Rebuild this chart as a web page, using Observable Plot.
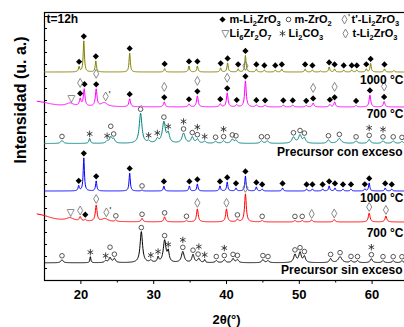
<!DOCTYPE html>
<html><head><meta charset="utf-8">
<script src="https://cdn.jsdelivr.net/npm/d3@7"></script>
<script src="https://cdn.jsdelivr.net/npm/@observablehq/plot@0.6"></script>
<style>
html,body{margin:0;padding:0;overflow:hidden;background:#fff;}
</style></head><body><div id="chart"></div>
<script>
// ---------- data (2θ in degrees, intensity in arbitrary units) ----------
const xTicks = [20, 30, 40, 50, 60];
const xMinorTicks = [25, 35, 45, 55, 65];

// trace offsets (stacking baselines)
const baseOlive = 208.5, baseMagenta = 173.5, baseTeal = 137, baseBlue = 89.5, baseRed = 58.5, baseBlack = 17.7;

// peaks: [2θ, height, half-width (optional)]
const peaksOlive = [[19.75,5],[20.4,31],[22.05,11],[26.7,19],[31.5,3.5],[34.85,6],[36.0,6],[39.2,4],[40.15,9],[41.6,3],[42.6,16.5],[44.1,3],[45.2,2],[46.7,2],[47.6,3],[50.8,3],[51.8,2],[52.9,1],[54.1,5],[54.85,3],[56.1,2],[57.2,2],[57.9,2],[59.2,3],[59.8,8.5],[61.7,3],[63.0,1.5]];
const peaksMagenta = [[14,5.6,2],[18.5,3,0.6],[19.9,7],[20.45,17],[22.1,17],[23.2,4,0.5],[26.7,8],[28.3,1],[31.45,5],[34.85,3],[36.0,11],[39.15,3],[40.1,14],[41.4,2],[42.6,26],[44.1,2],[45.3,2],[47.8,2],[49.1,2],[50.95,1.5],[51.9,4],[54.2,2.5],[54.85,5],[57.8,1.5],[59.7,12],[61.65,5.5]];
const peaksTeal = [[17.4,3],[21.2,5,0.12],[23.6,2],[24.1,6],[24.5,4],[28.2,30,0.22],[29.3,2],[30.5,4],[31.4,21,0.25],[32.0,9],[34.1,10,0.25],[35.3,6],[36.0,4],[37.0,2],[38.5,2],[39.6,2.5],[40.8,4],[41.3,3],[44.8,2.5],[45.6,2.5],[49.2,6,0.25],[50.1,8,0.25],[50.7,5],[54.0,3.5],[55.5,5,0.3],[57.8,2.5],[59.6,4],[61.5,2.5],[62.9,2.5],[64.1,2]];
const peaksBlue = [[19.7,5],[20.4,33],[22.1,10],[26.7,18],[28.4,1],[31.4,5],[34.9,5],[36.0,7],[39.1,5],[40.1,9],[41.3,3],[42.6,15],[44.1,4],[44.9,2],[47.7,3],[51.0,2],[51.8,2],[53.2,2],[54.1,5],[54.9,3],[56.0,2],[57.1,2],[59.0,2],[59.6,8],[61.8,3],[62.7,2]];
const peaksRed = [[14,8,2],[18.5,3,0.6],[19.9,4],[20.6,1.5],[22.1,16],[23.3,3,0.5],[24.8,1.5],[28.4,3.5],[31.5,5],[34.5,1.5],[36.0,13],[40.0,13],[41.5,2.5],[42.6,28],[44.9,1.5],[49.4,1.5],[50.4,1.5],[51.7,2],[54.8,2.5],[59.6,9],[61.9,6]];
const peaksBlack = [[17.4,3],[21.3,6,0.08],[23.4,2],[24.0,5],[24.6,4],[28.3,31,0.2],[29.6,2],[30.6,5,0.12],[31.5,22,0.22],[32.0,10,0.15],[34.0,11,0.22],[35.4,8],[36.2,4],[37.0,3,0.1],[38.6,2],[39.7,3],[40.9,4],[41.5,3],[45.0,3],[45.7,2],[49.4,8,0.2],[50.1,10,0.2],[50.7,6],[54.3,4],[55.6,6,0.3],[57.1,2],[58.0,2],[59.9,4],[61.5,2],[62.9,2],[64.1,2]];

// phase markers: [2θ, phase, stack level]
// m = m-Li2ZrO3, z = m-ZrO2, tp = t'-Li2ZrO3, l6 = Li6Zr2O7, c = Li2CO3, t = t-Li2ZrO3
const marksOlive = [[19.75,"m",0],[20.4,"m",0],[22.05,"m",0],[26.7,"m",0],[31.5,"m",0],[34.85,"m",0],[36.0,"m",0],[39.2,"m",0],[40.15,"m",0],[41.6,"m",0],[42.6,"m",0],[44.1,"m",0],[45.2,"m",0],[46.7,"m",0],[47.6,"m",0],[50.8,"m",0],[51.8,"m",0],[54.1,"m",0],[54.85,"m",0],[56.1,"m",0],[57.2,"m",0],[57.9,"m",0],[59.2,"m",0],[59.8,"m",0],[61.7,"m",0]];
const marksMagenta = [[18.7,"l6",0],[19.9,"m",0],[19.9,"t",1],[20.5,"m",0],[22.1,"m",0],[22.1,"t",1],[23.4,"tp",0],[26.7,"m",0],[31.45,"m",0],[31.45,"t",1],[34.85,"m",0],[36.0,"m",0],[36.0,"t",1],[39.15,"m",0],[40.1,"m",0],[40.1,"t",1],[41.4,"m",0],[42.6,"m",0],[42.6,"t",1],[44.1,"m",0],[45.3,"m",0],[47.8,"m",0],[49.1,"m",0],[50.95,"m",0],[51.9,"m",0],[51.9,"t",1],[54.2,"m",0],[54.85,"m",0],[54.85,"t",1],[57.8,"m",0],[59.7,"m",0],[59.7,"t",1],[61.65,"m",0],[61.65,"t",1]];
const marksTeal = [[17.4,"z",0],[21.2,"c",0],[23.6,"c",0],[24.1,"z",1],[24.5,"z",0],[28.2,"z",0],[29.3,"c",0],[30.5,"c",0],[31.4,"z",0],[32.0,"c",0],[34.1,"z",0],[34.1,"c",1],[35.3,"z",0],[36.0,"z",0],[36.0,"c",1],[37.0,"c",0],[38.5,"z",0],[39.6,"z",0],[39.6,"c",1],[40.8,"z",0],[41.3,"z",0],[44.8,"z",0],[45.6,"z",0],[49.2,"z",0],[50.1,"z",0],[50.7,"z",0],[54.0,"z",0],[55.5,"z",0],[57.8,"z",0],[59.6,"z",0],[59.6,"c",1],[61.5,"z",0],[61.5,"c",1],[62.9,"z",0],[64.1,"z",0]];
const marksBlue = [[19.7,"m",0],[20.4,"m",0],[22.1,"m",0],[26.7,"m",0],[28.4,"z",0],[31.4,"m",0],[34.9,"m",0],[36.0,"m",0],[39.1,"m",0],[40.1,"m",0],[41.3,"m",0],[42.6,"m",0],[44.1,"m",0],[44.9,"m",0],[47.7,"m",0],[51.0,"m",0],[51.8,"m",0],[53.2,"m",0],[54.1,"m",0],[54.9,"m",0],[56.0,"m",0],[57.1,"m",0],[59.0,"m",0],[59.6,"m",0],[61.8,"m",0],[62.7,"m",0]];
const marksRed = [[18.6,"l6",0],[19.9,"t",0],[20.6,"m",0],[22.1,"t",0],[23.5,"tp",0],[24.8,"z",0],[28.4,"z",0],[31.5,"z",0],[34.5,"z",0],[36.0,"t",0],[40.0,"t",0],[41.5,"z",0],[42.6,"t",0],[44.9,"z",0],[49.4,"z",0],[50.4,"z",0],[51.7,"t",0],[54.8,"t",0],[59.6,"t",0],[61.9,"t",0]];
const marksBlack = [[17.4,"z",0],[21.3,"c",0],[23.4,"c",0],[24.0,"z",1],[24.6,"z",0],[28.3,"z",0],[29.6,"c",0],[30.6,"c",0],[31.5,"z",0],[32.0,"c",0],[34.0,"z",0],[34.0,"c",1],[35.4,"z",0],[36.1,"z",0],[36.2,"c",1],[37.0,"c",0],[38.6,"z",0],[39.7,"z",0],[39.7,"c",1],[40.9,"z",0],[41.5,"z",0],[45.0,"z",0],[45.7,"z",0],[49.4,"z",0],[50.1,"z",0],[50.7,"z",0],[54.3,"z",0],[55.6,"z",0],[57.1,"z",0],[58.0,"z",0],[59.9,"z",0],[59.9,"c",1],[61.5,"z",0],[62.9,"z",0],[64.1,"z",0]];

const traceLabels = ["1000 °C", "700 °C", "Precursor con exceso", "1000 °C", "700 °C", "Precursor sin exceso"];
const legendNames = ["m-Li_2ZrO_3", "m-ZrO_2", "t'-Li_2ZrO_3", "Li_6Zr_2O_7", "Li_2CO_3", "t-Li_2ZrO_3"];

// ---------- build ----------
const series = [
  {base: baseOlive, w: 0.1, peaks: peaksOlive, marks: marksOlive, color: "#808000"},
  {base: baseMagenta, w: 0.13, peaks: peaksMagenta, marks: marksMagenta, color: "#ff00ff"},
  {base: baseTeal, w: 0.2, peaks: peaksTeal, marks: marksTeal, color: "#008080"},
  {base: baseBlue, w: 0.1, peaks: peaksBlue, marks: marksBlue, color: "#0000ff"},
  {base: baseRed, w: 0.14, peaks: peaksRed, marks: marksRed, color: "#ff0000"},
  {base: baseBlack, w: 0.18, peaks: peaksBlack, marks: marksBlack, color: "#000000"}
];

function profile(s, t) {
  let v = s.base;
  for (const [p, h, w = s.w] of s.peaks) { const z = (t - p) / w; v += h / (1 + z * z); }
  return v;
}
const gap = {m: 4.5, t: 6, tp: 6, z: 4, c: 4.5, l6: 4.5};
const step = {m: 8, t: 9, tp: 9, z: 6, c: 7, l6: 8};

const lineMarks = [];
const markerRows = [];
series.forEach((s, i) => {
  const ts = Array.from(new Set(d3.range(15, 65.001, 0.04).map(d => +d.toFixed(3)).concat(s.peaks.map(p => p[0])))).sort((a, b) => a - b);
  const rows = ts.map(t => ({t, v: profile(s, t)}));
  lineMarks.push(Plot.line(rows, {x: "t", y: "v", stroke: s.color, strokeWidth: 1}));
  for (const [t, type, level] of s.marks) {
    let top = -Infinity;
    for (let u = t - 0.15; u <= t + 0.15; u += 0.03) top = Math.max(top, profile(s, u));
    markerRows.push({t, type, y: top + gap[type] + level * step[type]});
  }
});
const byType = k => markerRows.filter(d => d.type === k);

const font = "'Liberation Sans', Arial, Helvetica, sans-serif";
const legendDot = (dx, dy, opts) => Plot.dot([0], {frameAnchor: "top-left", dx, dy, ...opts});
const legendText = (str, dx, dy) => Plot.text([str], {frameAnchor: "top-left", lineAnchor: "middle", dx, dy, textAnchor: "start", fontSize: 11, fontWeight: "bold"});
const symM = {symbol: "diamond2", r: 2.8, fill: "#000", stroke: "none"};
const symT = {symbol: "diamond", r: 2.7, fill: "none", stroke: "#7a7a7a", strokeWidth: 0.9};
const symZ = {symbol: "circle", r: 2.3, fill: "none", stroke: "#444", strokeWidth: 0.9};
const symC = {symbol: "asterisk", r: 3, fill: "none", stroke: "#333", strokeWidth: 0.9};

const marks = [
  Plot.frame({stroke: "#000", strokeWidth: 1.2}),
  ...lineMarks,
  Plot.dot(byType("m"), {x: "t", y: "y", ...symM}),
  Plot.dot(byType("t").concat(byType("tp")), {x: "t", y: "y", ...symT}),
  Plot.text(byType("tp"), {x: "t", y: "y", text: () => "'", dx: 4, dy: -2, fontSize: 9, fill: "#555"}),
  Plot.dot(byType("z"), {x: "t", y: "y", ...symZ}),
  Plot.dot(byType("c"), {x: "t", y: "y", ...symC}),
  Plot.text(byType("l6"), {x: "t", y: "y", text: () => "▽", fontSize: 10, fill: "#333", fontFamily: "DejaVu Sans"}),
  // header text
  Plot.text(["t=12h"], {frameAnchor: "top-left", lineAnchor: "middle", dx: 2, dy: 7, textAnchor: "start", fontSize: 12, fontWeight: "bold"}),
  // legend
  legendDot(178, 7, symM), legendText(legendNames[0], 185, 7),
  legendDot(244, 7, symZ), legendText(legendNames[1], 250, 7),
  legendDot(300, 7, symT), Plot.text(["'"], {frameAnchor: "top-left", lineAnchor: "middle", dx: 303.5, dy: 5, fontSize: 9, fill: "#555"}), legendText(legendNames[2], 307, 7),
  Plot.text(["▽"], {frameAnchor: "top-left", lineAnchor: "middle", dx: 177, dy: 21, fontSize: 10, fill: "#333", fontFamily: "DejaVu Sans"}), legendText(legendNames[3], 185, 21),
  legendDot(238, 21, symC), legendText(legendNames[4], 244, 21),
  legendDot(301, 21, symT), legendText(legendNames[5], 308, 21),
  // trace labels
  ...[68, 102, 140, 186, 221, 258].map((dy, i) => Plot.text([traceLabels[i]], {frameAnchor: "top-right", lineAnchor: "middle", dx: (i % 3 === 2) ? -6 : -5, dy, textAnchor: "end", fontSize: 12, fontWeight: "bold"})),
  // axis titles
  Plot.text(["Intensidad (u. a.)"], {frameAnchor: "left", rotate: -90, dx: -24, dy: 17, fontSize: 16, fontWeight: "bold"}),
  Plot.text(["2θ(°)"], {frameAnchor: "bottom", lineAnchor: "middle", dy: 39, fontSize: 13, fontWeight: "bold"})
];
if (typeof Plot.axisX === "function") {
  marks.push(Plot.axisX({ticks: xMinorTicks, tickSize: 2.5, tickFormat: () => ""}));
  marks.push(Plot.axisX({ticks: xTicks, tickSize: 4, tickPadding: 5, fontSize: 13, fontWeight: "bold", label: null}));
}

const chart = Plot.plot({
  width: 418, height: 327,
  marginLeft: 44, marginRight: 10, marginTop: 12, marginBottom: 47,
  style: {fontFamily: font, fontWeight: "bold", fontSize: "13px", background: "#fff", maxWidth: "none", overflow: "hidden"},
  x: {domain: [15, 65], ticks: xTicks, tickSize: 4, tickPadding: 5, label: null},
  y: {domain: [0, 268], ticks: d3.range(0, 268, 12), tickSize: -3, tickFormat: () => "", label: null},
  marks
});

// subscripts: "_2" -> lowered small digit
chart.querySelectorAll("text").forEach(el => {
  const s = el.textContent;
  if (!s.includes("_")) return;
  el.textContent = "";
  const parts = s.split(/(_\d)/).filter(p => p.length);
  let lowered = false;
  const ns = "http://www.w3.org/2000/svg";
  for (const p of parts) {
    const ts = document.createElementNS(ns, "tspan");
    if (p[0] === "_") {
      ts.textContent = p.slice(1);
      ts.setAttribute("font-size", "7.5");
      if (!lowered) ts.setAttribute("dy", "3");
      lowered = true;
    } else {
      ts.textContent = p;
      if (lowered) ts.setAttribute("dy", "-3");
      lowered = false;
    }
    el.appendChild(ts);
  }
});
document.getElementById("chart").appendChild(chart);
</script></body></html>
